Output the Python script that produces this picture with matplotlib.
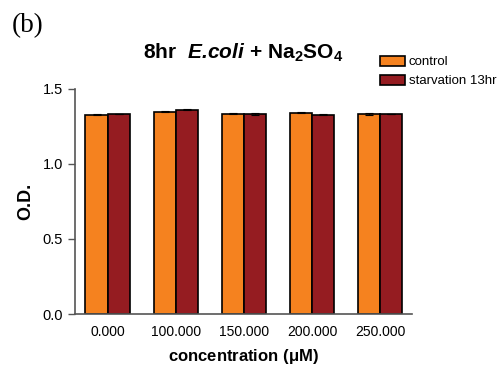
import numpy as np
import matplotlib.pyplot as plt

plt.rcParams['font.family'] = ['Liberation Sans', 'DejaVu Sans']
plt.rcParams['mathtext.fontset'] = 'custom'
plt.rcParams['mathtext.rm'] = 'Liberation Sans'
plt.rcParams['mathtext.it'] = 'Liberation Sans:italic'
plt.rcParams['mathtext.bf'] = 'Liberation Sans:bold'
plt.rcParams['mathtext.bfit'] = 'Liberation Sans:bold:italic'

concentrations = ['0.000', '100.000', '150.000', '200.000', '250.000']
control = [1.327, 1.347, 1.335, 1.342, 1.333]
starvation = [1.333, 1.360, 1.333, 1.329, 1.333]
control_err = [0.004, 0.003, 0.003, 0.004, 0.004]
starvation_err = [0.003, 0.003, 0.004, 0.004, 0.003]

orange = '#f5821f'
darkred = '#951c21'

fig = plt.figure(figsize=(5.03, 3.69), dpi=100)
ax = fig.add_axes([0.149, 0.149, 0.670, 0.610])

x = np.arange(len(concentrations))
w = 0.33
ax.bar(x - w / 2, control, w, color=orange, edgecolor='black', linewidth=1.2,
       yerr=control_err, error_kw=dict(elinewidth=0.8, capsize=3, capthick=0.8), label='control')
ax.bar(x + w / 2, starvation, w, color=darkred, edgecolor='black', linewidth=1.2,
       yerr=starvation_err, error_kw=dict(elinewidth=0.8, capsize=3, capthick=0.8), label='starvation 13hr')

ax.set_xlim(-0.485, 4.47)
ax.set_ylim(0, 1.5)
ax.set_yticks([0.0, 0.5, 1.0, 1.5])
ax.set_yticklabels(['0.0', '0.5', '1.0', '1.5'])
ax.set_xticks(x)
ax.set_xticklabels(concentrations)
ax.tick_params(axis='x', length=0, labelsize=10, pad=8)
ax.tick_params(axis='y', length=5, width=1, color='#555555', labelsize=10.5)
for s in ['top', 'right']:
    ax.spines[s].set_visible(False)
for s in ['left', 'bottom']:
    ax.spines[s].set_color('#555555')
    ax.spines[s].set_linewidth(1.2)

ax.set_ylabel('O.D.', fontsize=13, fontweight='bold', labelpad=6)
ax.set_xlabel(r'concentration ($\mathbf{\mu}$M)', fontsize=12, fontweight='bold', labelpad=6)

fig.text(0.483, 0.856, r'8hr  $\mathbfit{E.\!coli}$ + Na$_\mathbf{2}$SO$_\mathbf{4}$',
         fontsize=15, fontweight='bold', ha='center', va='center')
fig.text(0.024, 0.93, '(b)', fontsize=19.5, family='Liberation Serif', ha='left', va='center')

ax.legend(loc='upper left', bbox_to_anchor=(0.89, 1.17), frameon=False, fontsize=9.5,
          handlelength=1.9, handleheight=0.75, handletextpad=0.25, labelspacing=0.5,
          borderaxespad=0)

fig.savefig('out.png', dpi=100)
